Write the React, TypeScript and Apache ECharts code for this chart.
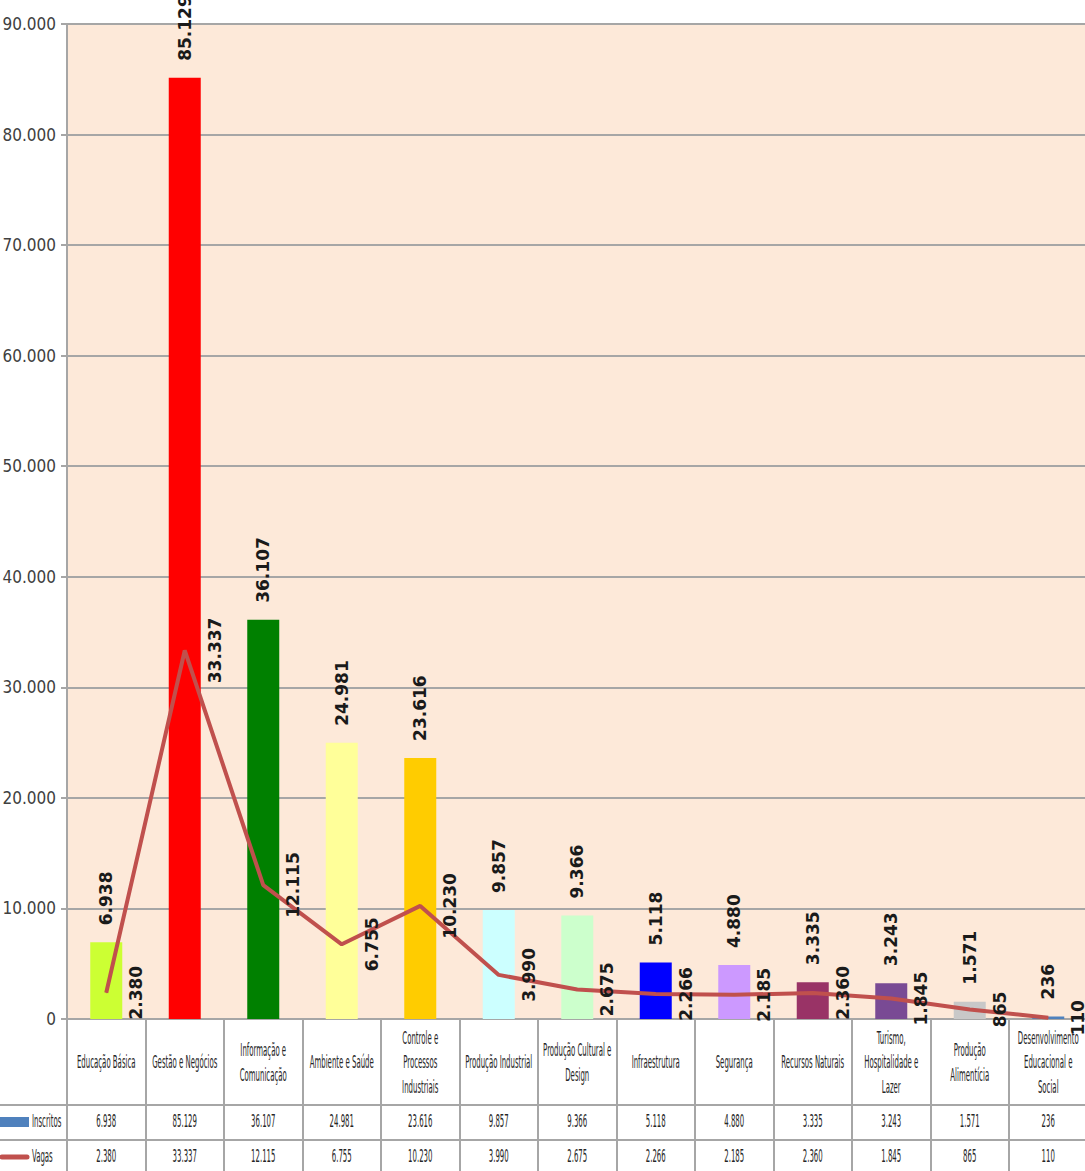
import React, { useEffect, useRef } from "react";
import * as echarts from "echarts";

const categories = [
  "Educação Básica",
  "Gestão e Negócios",
  "Informação e\nComunicação",
  "Ambiente e Saúde",
  "Controle e\nProcessos\nIndustriais",
  "Produção Industrial",
  "Produção Cultural e\nDesign",
  "Infraestrutura",
  "Segurança",
  "Recursos Naturais",
  "Turismo,\nHospitalidade e\nLazer",
  "Produção\nAlimentícia",
  "Desenvolvimento\nEducacional e\nSocial",
];
const inscritos = [6938, 85129, 36107, 24981, 23616, 9857, 9366, 5118, 4880, 3335, 3243, 1571, 236];
const vagas = [2380, 33337, 12115, 6755, 10230, 3990, 2675, 2266, 2185, 2360, 1845, 865, 110];
const barColors = [
  "#CCFF33", "#FF0000", "#008000", "#FFFF99", "#FFCC00", "#CCFFFF", "#CCFFCC",
  "#0000FF", "#CC99FF", "#993366", "#794A94", "#C8C8C8", "#4F81BD",
];
const seriesNames = ["Inscritos", "Vagas"];
const yMin = 0;
const yMax = 90000;
const yInterval = 10000;

const fmt = (n: number) => String(n).replace(/\B(?=(\d{3})+(?!\d))/g, ".");

const NARROW = "'DejaVu Sans Condensed', 'DejaVu Sans', sans-serif";
const SX = 0.43;
const TXT = "#262626";
const GRID = "#A6A6A6";

export default function App() {
  const ref = useRef<HTMLDivElement>(null);
  useEffect(() => {
    if (!ref.current) return;
    const chart = echarts.init(ref.current, undefined, { renderer: "svg" });
    const gridTop = 24;
    const gridBottom = 152;
    const H = 1171;
    const tableTop = H - gridBottom;
    const option: any = {
      animation: false,
      backgroundColor: "#FFFFFF",
      grid: {
        left: 67,
        top: gridTop,
        width: 1020.5,
        bottom: gridBottom,
        show: true,
        backgroundColor: "#FDE9D9",
        borderWidth: 0,
        containLabel: false,
        outerBoundsMode: "none",
      },
      xAxis: [
        {
          type: "category",
          data: categories,
          boundaryGap: true,
          axisLine: { show: true, lineStyle: { color: GRID, width: 2 } },
          axisTick: { show: true, interval: 0, length: 152, lineStyle: { color: GRID, width: 2 } },
          axisLabel: { show: false },
        },
      ],
      yAxis: [
        {
          type: "value",
          min: yMin,
          max: yMax,
          interval: yInterval,
          axisLine: { show: true, lineStyle: { color: GRID, width: 2 } },
          axisTick: { show: true, length: 6, lineStyle: { color: GRID, width: 2 } },
          splitLine: { show: true, lineStyle: { color: GRID, width: 2 } },
          axisLabel: {
            formatter: (v: number) => fmt(v),
            fontFamily: NARROW,
            fontSize: 17,
            color: "#404040",
            margin: 11,
          },
        },
      ],
      series: [
        {
          name: seriesNames[0],
          type: "bar",
          data: inscritos.map((v, i) => ({ value: v, itemStyle: { color: barColors[i] } })),
          barWidth: 32,
          label: {
            show: true,
            position: "top",
            distance: 17,
            rotate: 90,
            align: "left",
            verticalAlign: "middle",
            formatter: (p: any) => fmt(p.value),
            fontFamily: "DejaVu Sans",
            fontWeight: "bold",
            fontSize: 17,
            color: "#1A1A1A",
          },
          z: 2,
        },
        {
          name: seriesNames[1],
          type: "line",
          data: vagas,
          symbol: "circle",
          symbolSize: 1,
          showSymbol: true,
          itemStyle: { color: "#C0504D" },
          lineStyle: { color: "#C0504D", width: 4 },
          label: {
            show: true,
            position: "inside",
            rotate: 90,
            align: "center",
            verticalAlign: "middle",
            offset: [0, 30],
            formatter: (p: any) => fmt(p.value),
            fontFamily: "DejaVu Sans",
            fontWeight: "bold",
            fontSize: 17,
            color: "#1A1A1A",
          },
          z: 3,
        },
        {
          name: "table",
          type: "custom",
          silent: true,
          data: categories.map((_, i) => [i, 0]),
          encode: { x: 0, y: 1 },
          clip: false,
          renderItem: (params: any, api: any) => {
            const i = params.dataIndex;
            const x = api.coord([i, 0])[0];
            const cs = params.coordSys;
            const bottom = cs.y + cs.height;
            const mk = (text: string, y: number) => ({
              type: "text",
              x,
              y,
              scaleX: SX,
              style: {
                text,
                fontFamily: NARROW,
                fontSize: 18,
                lineHeight: 25,
                fill: TXT,
                align: "center",
                verticalAlign: "middle",
              },
            });
            return {
              type: "group",
              children: [
                mk(categories[i], bottom + 43),
                mk(fmt(inscritos[i]), bottom + 102),
                mk(fmt(vagas[i]), bottom + 137),
              ],
            };
          },
          z: 4,
        },
      ],
      graphic: [
        { type: "line", shape: { x1: 0, y1: tableTop + 86, x2: 1085, y2: tableTop + 86 }, style: { stroke: GRID, lineWidth: 2 } },
        { type: "line", shape: { x1: 0, y1: tableTop + 121, x2: 1085, y2: tableTop + 121 }, style: { stroke: GRID, lineWidth: 2 } },
        { type: "rect", shape: { x: 0, y: tableTop + 98, width: 29, height: 10 }, style: { fill: "#4F81BD" } },
        { type: "line", shape: { x1: 2, y1: tableTop + 138, x2: 27, y2: tableTop + 138 }, style: { stroke: "#C0504D", lineWidth: 5, lineCap: "round" } },
        {
          type: "text", x: 32, y: tableTop + 102, scaleX: SX,
          style: { text: seriesNames[0], fontFamily: NARROW, fontSize: 18, fill: TXT, align: "left", verticalAlign: "middle" },
        },
        {
          type: "text", x: 32, y: tableTop + 137, scaleX: SX,
          style: { text: seriesNames[1], fontFamily: NARROW, fontSize: 18, fill: TXT, align: "left", verticalAlign: "middle" },
        },
      ],
    };
    chart.setOption(option);
    return () => chart.dispose();
  }, []);
  return (
    <div style={{ position: "absolute", left: 0, top: 0, width: 1085, height: 1171, overflow: "hidden" }}>
      <div ref={ref} style={{ width: 1085, height: 1171 }} />
    </div>
  );
}
